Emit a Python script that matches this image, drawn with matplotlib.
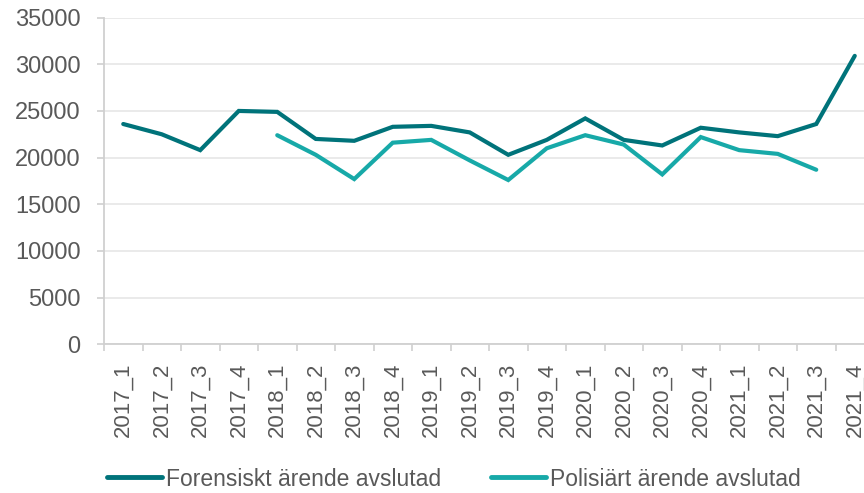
import matplotlib
matplotlib.use("Agg")
import matplotlib.pyplot as plt
import numpy as np

categories = ["2017_1", "2017_2", "2017_3", "2017_4",
              "2018_1", "2018_2", "2018_3", "2018_4",
              "2019_1", "2019_2", "2019_3", "2019_4",
              "2020_1", "2020_2", "2020_3", "2020_4",
              "2021_1", "2021_2", "2021_3", "2021_4"]
forensiskt = [23600, 22500, 20800, 25000, 24900, 22000, 21800, 23300,
              23400, 22700, 20300, 21900, 24200, 21900, 21300, 23200,
              22700, 22300, 23600, 30900]
polisiart = [None, None, None, None, 22400, 20300, 17700, 21600,
             21900, 19700, 17600, 21000, 22400, 21400, 18200, 22200,
             20800, 20400, 18700, None]
yticks = [0, 5000, 10000, 15000, 20000, 25000, 30000, 35000]

plt.rcParams['font.family'] = ['Liberation Sans', 'DejaVu Sans']
text_color = '#595959'
dark = '#00737A'
light = '#17A9A8'

fig = plt.figure(figsize=(8.64, 4.93), dpi=100)
ax = fig.add_axes([104/864, 1 - 344.3/493, 770/864, (344.3 - 17.6)/493])

x = np.arange(len(categories))
pol = np.array([np.nan if v is None else v for v in polisiart], dtype=float)
ax.plot(x, forensiskt, color=dark, lw=3.0, solid_capstyle='round',
        solid_joinstyle='miter', label='Forensiskt ärende avslutad', zorder=3)
ax.plot(x, pol, color=light, lw=3.0, solid_capstyle='round',
        solid_joinstyle='miter', label='Polisiärt ärende avslutad', zorder=3)

ax.set_xlim(-0.5, len(categories) - 0.5)
ax.set_ylim(0, 35000)
ax.set_yticks(yticks)
ax.set_yticklabels([str(v) for v in yticks])
ax.set_xticks(x)
ax.set_xticklabels(categories, rotation=90)
ax.set_xticks(np.arange(-0.5, len(categories), 1.0), minor=True)

ax.tick_params(axis='x', which='major', length=0, pad=13, labelsize=16, labelcolor=text_color)
ax.tick_params(axis='x', which='minor', length=5, width=1.2, color='#D0D0D0')
ax.tick_params(axis='y', which='major', length=5, width=1.2, color='#D0D0D0', pad=12,
               labelsize=17, labelcolor=text_color)

ax.grid(axis='y', color='#E6E6E6', lw=1.2, zorder=0)
ax.set_axisbelow(True)
for s in ['top', 'right']:
    ax.spines[s].set_visible(False)
for s in ['left', 'bottom']:
    ax.spines[s].set_color('#D0D0D0')
    ax.spines[s].set_linewidth(1.3)

leg = fig.legend(loc='center', bbox_to_anchor=(454/864, 1 - 479/493), ncol=2,
                 frameon=False, fontsize=16.5, handlelength=2.4, handletextpad=0.15,
                 columnspacing=2.2, labelcolor=text_color)
for h in leg.get_lines():
    h.set_linewidth(3.5)
    h.set_solid_capstyle('round')

fig.savefig('out.png', dpi=100)
